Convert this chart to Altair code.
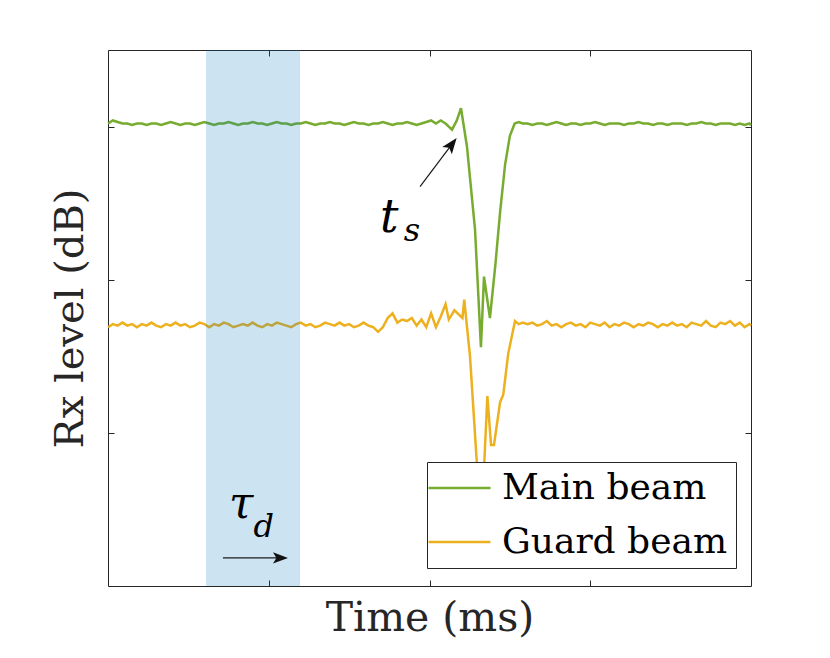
import altair as alt
import pandas as pd

# ---------------- data ----------------
pre_t = [round(i * 0.03, 3) for i in range(69)]            # 0.00 .. 2.04
post_t = [round(2.58 + i * 0.03, 3) for i in range(48)] + [4.0]  # 2.58 .. 4.00

main_pre = [3.02, 3.04, 3.03, 3.02, 3.02, 3.01, 3.02, 3.02, 3.01, 3.02,
            3.02, 3.01, 3.02, 3.03, 3.02, 3.01, 3.02, 3.02, 3.01, 3.02,
            3.03, 3.02, 3.01, 3.02, 3.02, 3.03, 3.02, 3.01, 3.02, 3.02,
            3.03, 3.02, 3.02, 3.01, 3.02, 3.03, 3.02, 3.02, 3.01, 3.02,
            3.02, 3.03, 3.02, 3.01, 3.02, 3.02, 3.03, 3.02, 3.02, 3.01,
            3.02, 3.03, 3.02, 3.02, 3.01, 3.02, 3.02, 3.03, 3.02, 3.01,
            3.02, 3.02, 3.03, 3.02, 3.01, 3.02, 3.03, 3.04, 3.02]
main_evt_t = [2.07, 2.10, 2.14, 2.17, 2.196, 2.233, 2.283, 2.32, 2.339, 2.376,
              2.41, 2.439, 2.47, 2.50, 2.53, 2.555]
main_evt = [3.04, 3.02, 2.98, 3.04, 3.12, 2.87, 2.33, 1.56, 2.02, 1.75,
            2.10, 2.44, 2.75, 2.94, 3.02, 3.03]
main_post = [3.02, 3.02, 3.01, 3.02, 3.02, 3.01, 3.02, 3.03, 3.02, 3.01,
             3.02, 3.02, 3.01, 3.02, 3.02, 3.03, 3.02, 3.01, 3.02, 3.02,
             3.02, 3.01, 3.02, 3.02, 3.03, 3.02, 3.02, 3.01, 3.02, 3.02,
             3.01, 3.02, 3.02, 3.02, 3.01, 3.02, 3.02, 3.03, 3.02, 3.02,
             3.01, 3.02, 3.02, 3.02, 3.01, 3.02, 3.01, 3.02, 3.01]

guard_pre = [1.69, 1.71, 1.70, 1.72, 1.70, 1.71, 1.69, 1.71, 1.70, 1.72,
             1.70, 1.69, 1.71, 1.70, 1.72, 1.70, 1.71, 1.69, 1.70, 1.72,
             1.71, 1.69, 1.71, 1.70, 1.72, 1.71, 1.69, 1.70, 1.71, 1.70,
             1.72, 1.70, 1.69, 1.71, 1.70, 1.72, 1.71, 1.70, 1.69, 1.71,
             1.72, 1.70, 1.71, 1.69, 1.70, 1.72, 1.71, 1.70, 1.72, 1.70,
             1.71, 1.69, 1.70, 1.72, 1.70, 1.69, 1.66, 1.69, 1.75, 1.78,
             1.72, 1.74, 1.73, 1.75, 1.70, 1.74, 1.69, 1.78, 1.69]
guard_evt_t = [2.07, 2.10, 2.12, 2.155, 2.175, 2.205, 2.216, 2.252, 2.294, 2.308,
               2.327, 2.341, 2.36, 2.383, 2.401, 2.439, 2.459, 2.49, 2.532, 2.555]
guard_evt = [1.76, 1.84, 1.74, 1.80, 1.78, 1.75, 1.87, 1.50, 0.81, 0.50,
             0.53, 0.81, 1.24, 0.92, 0.92, 1.20, 1.25, 1.52, 1.73, 1.71]
guard_post = [1.72, 1.71, 1.72, 1.70, 1.71, 1.73, 1.70, 1.71, 1.69, 1.71,
              1.72, 1.70, 1.71, 1.69, 1.72, 1.71, 1.70, 1.72, 1.69, 1.71,
              1.70, 1.72, 1.71, 1.69, 1.71, 1.70, 1.72, 1.71, 1.69, 1.71,
              1.70, 1.72, 1.70, 1.71, 1.69, 1.72, 1.71, 1.70, 1.73, 1.70,
              1.69, 1.72, 1.71, 1.73, 1.70, 1.72, 1.69, 1.71, 1.70]

series_names = ["Main beam", "Guard beam"]
series_colors = ["#77AC30", "#EDB120"]

band_start, band_end = 0.61, 1.195

# annotations (data coordinates)
arrow_x1 = [1.941, 0.715]
arrow_y1 = [2.608, 0.183]
arrow_x2 = [2.139, 1.073]
arrow_y2 = [2.884, 0.183]
head_angle = [37, 90]
head_size = [256, 225]

ann_text = ["t", "s", "τ", "d"]
ann_x = [1.692, 1.84, 0.753, 0.905]
ann_y = [2.314, 2.255, 0.444, 0.320]
ann_size = [46, 32, 44, 32]

# ---------------- tables ----------------
rows = []
for t, v in zip(pre_t + main_evt_t + post_t, main_pre + main_evt + main_post):
    rows.append({"t": t, "v": v, "beam": "Main beam"})
for t, v in zip(pre_t + guard_evt_t + post_t, guard_pre + guard_evt + guard_post):
    rows.append({"t": t, "v": v, "beam": "Guard beam"})
lines_df = pd.DataFrame(rows)

band_df = pd.DataFrame({"x0": [band_start], "x1": [band_end], "y0": [0.0], "y1": [3.5]})
arrow_df = pd.DataFrame({"x1": arrow_x1, "y1": arrow_y1, "x2": arrow_x2, "y2": arrow_y2,
                         "ang": head_angle, "sz": head_size})
ann_df = pd.DataFrame({"txt": ann_text, "x": ann_x, "y": ann_y, "fs": ann_size})

FONT = "DejaVu Serif"
INK = "#262626"
xs = alt.Scale(domain=[0, 4], nice=False, zero=False)
ys = alt.Scale(domain=[0, 3.5], nice=False, zero=False)

tick_common = dict(values=[1, 2, 3], labels=False, domain=False, grid=False,
                   ticks=True, tickSize=6, offset=-6, tickColor=INK, tickWidth=1)

x_bottom = alt.Axis(orient="bottom", title="Time (ms)", titleFont=FONT, titleFontSize=41,
                    titleFontWeight="normal", titleColor=INK, titleBaseline="alphabetic",
                    titlePadding=44, **tick_common)
y_left = alt.Axis(orient="left", title="Rx level (dB)", titleFont=FONT, titleFontSize=40,
                  titleFontWeight="normal", titleColor=INK, titleBaseline="alphabetic",
                  titlePadding=25, **tick_common)
x_top = alt.Axis(orient="top", title=None, **tick_common)
y_right = alt.Axis(orient="right", title=None, **tick_common)

legend = alt.Legend(orient="none", legendX=319, legendY=412, title=None,
                    fillColor="white", strokeColor=INK, padding=8,
                    symbolType="M-1.58,0L2.42,0", symbolSize=961, symbolStrokeWidth=2.4,
                    labelOffset=31, labelFont=FONT, labelFontSize=36, labelColor="black",
                    labelLimit=500, rowPadding=18, cornerRadius=0)

lines = alt.Chart(lines_df).mark_line(strokeWidth=2.5).encode(
    x=alt.X("t:Q", scale=xs, axis=x_bottom),
    y=alt.Y("v:Q", scale=ys, axis=y_left),
    color=alt.Color("beam:N", scale=alt.Scale(domain=series_names, range=series_colors),
                    legend=legend),
    order=alt.Order("t:Q"),
)

band = alt.Chart(band_df).mark_rect(color="#0072BD", opacity=0.2).encode(
    x=alt.X("x0:Q", scale=xs, axis=x_top),
    x2="x1:Q",
    y=alt.Y("y0:Q", scale=ys, axis=y_right),
    y2="y1:Q",
)

shafts = alt.Chart(arrow_df).mark_rule(color="#1a1a1a", strokeWidth=1.2).encode(
    x=alt.X("x1:Q", scale=xs, axis=None),
    y=alt.Y("y1:Q", scale=ys, axis=None),
    x2="x2:Q",
    y2="y2:Q",
)

heads = alt.Chart(arrow_df).mark_point(
    shape="M0,-1L0.75,1L0,0.55L-0.75,1Z", filled=True, color="#111111", opacity=1,
    strokeWidth=0,
).encode(
    x=alt.X("x2:Q", scale=xs, axis=None),
    y=alt.Y("y2:Q", scale=ys, axis=None),
    angle=alt.Angle("ang:Q", scale=None),
    size=alt.Size("sz:Q", scale=None, legend=None),
)

texts = alt.Chart(ann_df).mark_text(
    font=FONT, fontStyle="italic", align="left", baseline="alphabetic", color="black"
).encode(
    x=alt.X("x:Q", scale=xs, axis=None),
    y=alt.Y("y:Q", scale=ys, axis=None),
    text="txt:N",
    size=alt.Size("fs:Q", scale=None, legend=None),
)

chart = alt.layer(lines, band, shafts, heads, texts).resolve_axis(
    x="independent", y="independent"
).properties(
    width=643, height=536, autosize="none",
    padding={"left": 100, "top": 42, "right": 60, "bottom": 60},
    background="white",
).configure_view(stroke=INK, strokeWidth=1)

chart.save("out.html", embed_options={"renderer": "svg", "actions": False})
